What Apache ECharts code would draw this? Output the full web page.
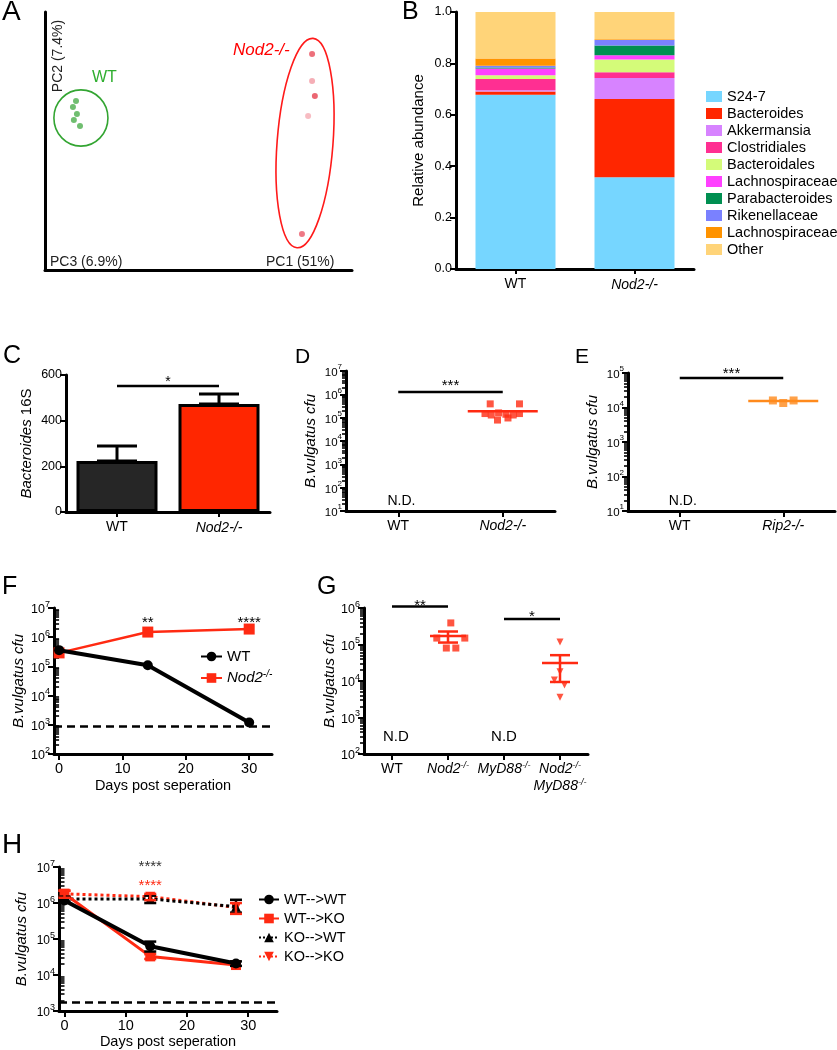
<!DOCTYPE html>
<html>
<head>
<meta charset="utf-8">
<script src="https://cdn.jsdelivr.net/npm/echarts@6.0.0/dist/echarts.min.js"></script>
<style>html,body{margin:0;padding:0;background:#fff;}#chart{width:837px;height:1050px;}</style>
</head>
<body>
<div id="chart"></div>
<script>
// ================= DATA =================
// Panel A: PCoA scores (arbitrary PC units 0-100)
const pcaWT = [[10.1,65.5],[9.1,63.2],[10.4,60.5],[9.4,58.1],[11.4,55.8]];
const pcaNod2 = [[87.0,83.7],[87.0,73.3],[87.9,67.4],[85.7,59.7],[83.7,14.0]];
const pcaEllipses = [[11.7,58.9,8.8,10.9,0],[84.7,49.2,9.1,40.7,-4.4]]; // cx, cy, rx, ry, tilt(deg)

// Panel B: relative abundance
const bCats = ['WT','Nod2-/-'];
const taxa = ['S24-7','Bacteroides','Akkermansia','Clostridiales','Bacteroidales','Lachnospiraceae','Parabacteroides','Rikenellaceae','Lachnospiraceae ','Other'];
const taxaWT   = [0.678,0.013,0.005,0.043,0.015,0.026,0.004,0.007,0.028,0.181];
const taxaNod2 = [0.357,0.304,0.082,0.023,0.049,0.017,0.038,0.021,0.003,0.106];
const bTicks = [0,0.2,0.4,0.6,0.8,1.0];

// Panel C: Bacteroides 16S
const cCats = ['WT','Nod2-/-'];
const cMean = [223,473];
const cErrTop = [289,517];

// Panel D: B.vulgatus cfu WT vs Nod2-/-
const dCats = ['WT','Nod2-/-'];
const dNod2X = [1.88,2.16,1.83,1.89,1.96,2.03,2.10,2.16,1.95,2.05];
const dNod2Y = [3.9e5,3.9e5,1.5e5,1.3e5,1.6e5,1.4e5,1.3e5,1.5e5,7.9e4,9.7e4];
const dNod2Mean = 1.9e5;

// Panel E: WT vs Rip2-/-
const eCats = ['WT','Rip2-/-'];
const eRip2X = [1.9,2.0,2.1];
const eRip2Y = [1.6e4,1.35e4,1.6e4];
const eRip2Mean = 1.55e4;

// Panel F: time course
const fDays = [0,14,30];
const fWT = [3.6e5,1.1e5,1.2e3];
const fNod2 = [2.9e5,1.5e6,1.9e6];
const fLimit = 900;
const fXTicks = [0,10,20,30];

// Panel G
const gCats = ['WT','Nod2-/-','MyD88-/-','Nod2-/-\nMyD88-/-'];
const gNod2X = [2.05,1.80,2.30,1.97,2.14];
const gNod2Y = [3.9e5,1.5e5,1.5e5,8.0e4,8.0e4];
const gNod2Stat = [1.7e5,1.13e5,2.27e5]; // mean, low, high
const gDKOX = [4.0,4.0,3.9,4.08,4.0];
const gDKOY = [1.17e5,1.8e4,1.07e4,7.8e3,3.6e3];
const gDKOStat = [3.1e4,9.4e3,5.1e4];

// Panel H: transfer time course
const hDays = [0,14,28];
const hWTWT = [1.17e6,6.3e4,2.1e4];
const hWTKO = [1.8e6,3.3e4,1.9e4];
const hKOWT = [1.3e6,1.3e6,7.9e5];
const hKOKO = [1.8e6,1.5e6,7.5e5];
const hErrWTWT = [null,[4.5e4,8.5e4],[1.8e4,2.4e4]];
const hErrWTKO = [[1.5e6,2.2e6],[2.8e4,3.8e4],null];
const hErrKOWT = [[1.1e6,1.5e6],[1.0e6,1.6e6],[5.4e5,1.23e6]];
const hErrKOKO = [[1.4e6,2.2e6],[1.2e6,1.8e6],[5.0e5,1.0e6]];
const hLimit = 1.8e3;
const hXTicks = [0,10,20,30];

// ================= STYLE =================
const FONT = '"Liberation Sans", Arial, Helvetica, sans-serif';
const RED = '#ff2a12';
const ORANGE = '#ff8a1c';
const GREEN = '#4cae4c';
const taxaColors = ['#76d6ff','#ff2600','#d783ff','#ff2f92','#d4fb79','#ff40ff','#008f51','#7a81ff','#ff9300','#ffd479'];
const pcaNod2Shades = ['#e94c5a','#f29aa4','#e6404f','#f5abb3','#ea5866'];

const grids=[], xAxes=[], yAxes=[], series=[], legends=[], graphics=[];
const addGrid = g => (grids.push(g), grids.length-1);
const addX = a => (xAxes.push(a), xAxes.length-1);
const addY = a => (yAxes.push(a), yAxes.length-1);

const axLine = {show:true, onZero:false, lineStyle:{color:'#000', width:3}};
const axTick = {show:true, length:6, lineStyle:{color:'#000', width:2}};

function rich(fs){
  return {
    i:{fontStyle:'italic', fontSize:fs, fontFamily:FONT, color:'#000', lineHeight:fs+3},
    s:{fontStyle:'italic', fontSize:Math.round(fs*0.65), fontFamily:FONT, color:'#000', lineHeight:Math.round(fs*0.65), verticalAlign:'top'},
    b:{fontSize:fs, fontFamily:FONT, color:'#000', lineHeight:fs+4, verticalAlign:'bottom'},
    e:{fontSize:Math.round(fs*0.72), fontFamily:FONT, color:'#000', lineHeight:Math.round(fs*0.72), verticalAlign:'top'}
  };
}
const italic = s => s === 'WT' ? s : '{i|' + s + '}';
const supKO = s => s === 'WT' ? s : s.split('\n').map(p => p.replace(/^(.*)-\/-$/, '{i|$1}{s|-/-}')).join('\n');
const supFmt = v => '{b|10}{e|' + Math.round(Math.log10(v)) + '}';
function minorVals(min, max){
  const out = [];
  for (let d = min; d < max - 1e-9 * max; d *= 10) for (let k = 2; k <= 9; k++) out.push(d*k);
  return out;
}

function logY(gi, min, max, fs, nameGap){
  const idx = addY({gridIndex:gi, type:'log', logBase:10, min, max,
    axisLine:axLine, axisTick:axTick,
    splitLine:{show:false}, minorSplitLine:{show:false},
    axisLabel:{formatter:supFmt, margin:4, color:'#000', rich:rich(fs)},
    name:'B.vulgatus cfu', nameLocation:'middle', nameRotate:90, nameGap,
    nameTextStyle:{fontSize:15, fontStyle:'italic', color:'#000', fontFamily:FONT}});
  // companion axis carrying the logarithmic minor ticks
  addY({gridIndex:gi, type:'log', logBase:10, min, max, position:'left',
    axisLine:{show:false}, axisLabel:{show:false}, splitLine:{show:false},
    axisTick:{show:true, customValues:minorVals(min, max), length:4, lineStyle:{color:'#000', width:1.6}}});
  return idx;
}
function catX(gi, cats, n, fs, fmt){
  const vals = cats.map((c,i)=>i+1);
  return addX({gridIndex:gi, type:'value', min:0.5, max:n+0.5,
    axisLine:axLine, axisTick:Object.assign({customValues:vals}, axTick),
    splitLine:{show:false},
    axisLabel:{customValues:vals, formatter:v=>fmt(cats[Math.round(v)-1]), fontSize:fs, lineHeight:fs+3, color:'#000', fontFamily:FONT, margin:7, rich:rich(fs), hideOverlap:false}});
}
function meanErr(xi, yi, items, color, halfMean, halfCap, lw){
  return {type:'custom', xAxisIndex:xi, yAxisIndex:yi, silent:true, z:6, clip:false,
    data: items,
    renderItem(p, api){
      const it = items[p.dataIndex];
      const c = api.coord([it[0], it[1]]);
      const ch = [];
      if (halfMean > 0) ch.push({type:'line', shape:{x1:c[0]-halfMean, y1:c[1], x2:c[0]+halfMean, y2:c[1]}, style:{stroke:color, lineWidth:lw}});
      if (it[2] != null && it[3] != null){
        const lo = api.coord([it[0], it[2]]), hi = api.coord([it[0], it[3]]);
        ch.push({type:'line', shape:{x1:c[0], y1:lo[1], x2:c[0], y2:hi[1]}, style:{stroke:color, lineWidth:lw}});
        ch.push({type:'line', shape:{x1:c[0]-halfCap, y1:lo[1], x2:c[0]+halfCap, y2:lo[1]}, style:{stroke:color, lineWidth:lw}});
        ch.push({type:'line', shape:{x1:c[0]-halfCap, y1:hi[1], x2:c[0]+halfCap, y2:hi[1]}, style:{stroke:color, lineWidth:lw}});
      }
      return {type:'group', children:ch};
    }};
}
function annot(xi, yi, items){
  return {type:'custom', xAxisIndex:xi, yAxisIndex:yi, silent:true, z:10, clip:false,
    data: items.map(it => [it.x1, it.y]),
    renderItem(p, api){
      const it = items[p.dataIndex];
      const a = api.coord([it.x1, it.y]);
      const ch = [];
      let tx = a[0];
      if (it.x2 != null){
        const b = api.coord([it.x2, it.y]);
        ch.push({type:'line', shape:{x1:a[0], y1:a[1], x2:b[0], y2:a[1]}, style:{stroke:'#000', lineWidth:2.5}});
        tx = (a[0]+b[0])/2;
      }
      const fs = it.fs || 15;
      ch.push({type:'text', x:tx, y:a[1] + (it.dy||0), style:{text:it.text, fill:it.color||'#000', fontSize:fs, fontFamily:FONT, align:'center', verticalAlign:'middle'}});
      return {type:'group', children:ch};
    }};
}
const STAR_OFF = 4; // shift so the asterisk glyph centre sits at the given position

// ================= PANEL A =================
const gA = addGrid({left:45, top:12, width:307, height:258});
const xA = addX({gridIndex:gA, type:'value', min:0, max:100, axisLine:axLine, axisTick:{show:false}, axisLabel:{show:false}, splitLine:{show:false}});
const yA = addY({gridIndex:gA, type:'value', min:0, max:100, axisLine:axLine, axisTick:{show:false}, axisLabel:{show:false}, splitLine:{show:false}});
series.push({type:'custom', name:'A_ellipses', xAxisIndex:xA, yAxisIndex:yA, silent:true, clip:false, data:pcaEllipses,
  renderItem(p, api){
    const e = pcaEllipses[p.dataIndex];
    const c = api.coord([e[0], e[1]]);
    const s = api.size([e[2], e[3]]);
    return {type:'ellipse', x:c[0], y:c[1], rotation:e[4]*Math.PI/180, shape:{cx:0, cy:0, rx:s[0], ry:s[1]},
      style:{fill:'none', stroke: p.dataIndex===0 ? '#33a532' : '#ff1a1a', lineWidth:1.6}};
  }});
series.push({type:'scatter', name:'A_WT', xAxisIndex:xA, yAxisIndex:yA, data:pcaWT, symbolSize:6, itemStyle:{color:GREEN}});
series.push({type:'scatter', name:'A_Nod2', xAxisIndex:xA, yAxisIndex:yA, symbolSize:6,
  data:pcaNod2.map((d,i)=>({value:d, itemStyle:{color:pcaNod2Shades[i]}}))});
graphics.push(
  {type:'text', x:58, y:56, rotation:Math.PI/2, style:{text:'PC2 (7.4%)', fontSize:14, fontFamily:FONT, fill:'#222', align:'center', verticalAlign:'middle'}},
  {type:'text', x:92, y:78, style:{text:'WT', fontSize:16, fontFamily:FONT, fill:'#2fae2f', align:'left', verticalAlign:'middle'}},
  {type:'text', x:233, y:50, style:{text:'Nod2-/-', fontSize:17, fontStyle:'italic', fontFamily:FONT, fill:'#ff0000', align:'left', verticalAlign:'middle'}},
  {type:'text', x:50, y:262, style:{text:'PC3 (6.9%)', fontSize:14, fontFamily:FONT, fill:'#222', align:'left', verticalAlign:'middle'}},
  {type:'text', x:266, y:262, style:{text:'PC1 (51%)', fontSize:14, fontFamily:FONT, fill:'#222', align:'left', verticalAlign:'middle'}}
);

// ================= PANEL B =================
const gB = addGrid({left:456, top:12, width:238, height:257});
const xB = addX({gridIndex:gB, type:'category', data:bCats, axisLine:axLine,
  axisTick:Object.assign({alignWithLabel:true}, axTick, {length:5}),
  axisLabel:{formatter:italic, fontSize:14, color:'#000', fontFamily:FONT, margin:8, rich:rich(14)}});
const yB = addY({gridIndex:gB, type:'value', min:0, max:1, interval:0.2, axisLine:axLine, axisTick:axTick, splitLine:{show:false},
  axisLabel:{customValues:bTicks, formatter:v=>v.toFixed(1), fontSize:12.5, color:'#000', fontFamily:FONT, margin:4},
  name:'Relative abundance', nameLocation:'middle', nameRotate:90, nameGap:30,
  nameTextStyle:{fontSize:15, color:'#000', fontFamily:FONT}});
taxa.forEach((t,i)=>{
  series.push({type:'bar', name:t, stack:'b', xAxisIndex:xB, yAxisIndex:yB, barWidth:80,
    data:[taxaWT[i], taxaNod2[i]], itemStyle:{color:taxaColors[i]}});
});
legends.push({left:706, top:89, orient:'vertical', padding:0, itemWidth:16, itemHeight:11, itemGap:2, icon:'rect',
  selectedMode:false, data:taxa, textStyle:{fontSize:14.5, lineHeight:15, color:'#000', fontFamily:FONT}});

// ================= PANEL C =================
const gC = addGrid({left:66, top:375, width:204, height:137});
const xC = addX({gridIndex:gC, type:'category', data:cCats, axisLine:axLine,
  axisTick:Object.assign({alignWithLabel:true}, axTick, {length:5}),
  axisLabel:{formatter:italic, fontSize:14, color:'#000', fontFamily:FONT, margin:8, rich:rich(14)}});
const yC = addY({gridIndex:gC, type:'value', min:0, max:600, interval:200, axisLine:axLine, axisTick:axTick, splitLine:{show:false},
  axisLabel:{fontSize:12.5, color:'#000', fontFamily:FONT, margin:4},
  name:'{i|Bacteroides} 16S', nameLocation:'middle', nameRotate:90, nameGap:32,
  nameTextStyle:{fontSize:15, color:'#000', fontFamily:FONT, rich:{i:{fontStyle:'italic', fontSize:15, fontFamily:FONT, color:'#000'}}}});
series.push({type:'bar', name:'C_bars', xAxisIndex:xC, yAxisIndex:yC, barWidth:81, z:3,
  data:cMean.map((v,i)=>({value:v, itemStyle:{color: i===0 ? '#262626' : '#ff2600', borderColor:'#000', borderWidth:3}}))});
series.push(meanErr(xC, yC, cMean.map((v,i)=>[i, cErrTop[i], v, cErrTop[i]]), '#000', 0, 20, 3));
series.push(annot(xC, yC, [{x1:0, x2:1, y:552, text:'*', dy:-8+STAR_OFF, fs:14}]));

// ================= PANEL D =================
const gD = addGrid({left:346, top:371, width:209, height:140});
const xD = catX(gD, dCats, 2, 14, italic);
const yD = logY(gD, 10, 1e7, 11.5, 28);
series.push({type:'scatter', name:'D_Nod2', xAxisIndex:xD, yAxisIndex:yD, symbol:'rect', symbolSize:7,
  data:dNod2X.map((x,i)=>[x, dNod2Y[i]]), itemStyle:{color:RED}});
series.push(meanErr(xD, yD, [[2, dNod2Mean, null, null]], RED, 35, 0, 2.5));
series.push(annot(xD, yD, [{x1:1, x2:2, y:1.26e6, text:'***', dy:-10+STAR_OFF},
  {x1:1.03, y:27, text:'N.D.', fs:14}]));

// ================= PANEL E =================
const gE = addGrid({left:628, top:373, width:207, height:138});
const xE = catX(gE, eCats, 2, 14, italic);
const yE = logY(gE, 10, 1e5, 11.5, 28);
series.push({type:'scatter', name:'E_Rip2', xAxisIndex:xE, yAxisIndex:yE, symbol:'rect', symbolSize:8,
  data:eRip2X.map((x,i)=>[x, eRip2Y[i]]), itemStyle:{color:ORANGE}});
series.push(meanErr(xE, yE, [[2, eRip2Mean, null, null]], ORANGE, 35, 0, 2.5));
series.push(annot(xE, yE, [{x1:1, x2:2, y:7.2e4, text:'***', dy:-8+STAR_OFF},
  {x1:1.03, y:19.5, text:'N.D.', fs:14}]));

// ================= PANEL F =================
const gF = addGrid({left:54, top:608, width:218, height:146});
const xF = addX({gridIndex:gF, type:'value', min:-0.8, max:33.6, axisLine:axLine,
  axisTick:Object.assign({customValues:fXTicks}, axTick), splitLine:{show:false},
  axisLabel:{customValues:fXTicks, fontSize:14.5, color:'#000', fontFamily:FONT, margin:7},
  name:'Days post seperation', nameLocation:'middle', nameGap:24, nameTextStyle:{fontSize:14.5, color:'#000', fontFamily:FONT}});
const yF = logY(gF, 100, 1e7, 12.5, 28);
series.push({type:'line', name:'WT', xAxisIndex:xF, yAxisIndex:yF, data:fDays.map((d,i)=>[d,fWT[i]]),
  symbol:'circle', symbolSize:10, lineStyle:{color:'#000', width:4}, itemStyle:{color:'#000'}, z:4,
  markLine:{silent:true, symbol:'none', label:{show:false}, lineStyle:{type:[8,5], color:'#000', width:2.5}, data:[{yAxis:fLimit}]}});
series.push({type:'line', name:'Nod2-/-', xAxisIndex:xF, yAxisIndex:yF, data:fDays.map((d,i)=>[d,fNod2[i]]),
  symbol:'rect', symbolSize:11, lineStyle:{color:RED, width:2.5}, itemStyle:{color:RED}, z:3});
series.push(annot(xF, yF, [{x1:14, y:4.2e6, text:'**', dy:STAR_OFF}, {x1:30, y:4.2e6, text:'****', dy:STAR_OFF}]));
legends.push({left:200, top:649, orient:'vertical', padding:0, itemWidth:21, itemHeight:12, itemGap:5, selectedMode:false,
  data:['WT','Nod2-/-'], formatter:n => n==='WT' ? n : '{i|Nod2}{s|-/-}',
  textStyle:{fontSize:15, lineHeight:14, color:'#000', fontFamily:FONT, rich:rich(15)}});

// ================= PANEL G =================
const gG = addGrid({left:364, top:608, width:224, height:146});
const xG = catX(gG, gCats, 4, 14, supKO);
const yG = logY(gG, 100, 1e6, 12.5, 19);
series.push({type:'scatter', name:'G_Nod2', xAxisIndex:xG, yAxisIndex:yG, symbol:'rect', symbolSize:7,
  data:gNod2X.map((x,i)=>[x, gNod2Y[i]]), itemStyle:{color:RED}});
series.push({type:'scatter', name:'G_DKO', xAxisIndex:xG, yAxisIndex:yG, symbol:'triangle', symbolRotate:180, symbolSize:7,
  data:gDKOX.map((x,i)=>[x, gDKOY[i]]), itemStyle:{color:RED}});
series.push(meanErr(xG, yG, [[2].concat(gNod2Stat), [4].concat(gDKOStat)], RED, 18, 10, 2.5));
series.push(annot(xG, yG, [{x1:1, x2:2, y:1.1e6, text:'**', dy:-5+STAR_OFF},
  {x1:3, x2:4, y:5.0e5, text:'*', dy:-6+STAR_OFF},
  {x1:1.07, y:290, text:'N.D', fs:15}, {x1:3.0, y:290, text:'N.D', fs:15}]));

// ================= PANEL H =================
const gH = addGrid({left:59, top:867, width:218, height:145});
const xH = addX({gridIndex:gH, type:'value', min:-0.9, max:34.7, axisLine:axLine,
  axisTick:Object.assign({customValues:hXTicks}, axTick), splitLine:{show:false},
  axisLabel:{customValues:hXTicks, fontSize:14.5, color:'#000', fontFamily:FONT, margin:7},
  name:'Days post seperation', nameLocation:'middle', nameGap:22, nameTextStyle:{fontSize:14.5, color:'#000', fontFamily:FONT}});
const yH = logY(gH, 1e3, 1e7, 12, 30);
const hSeries = [
  {name:'WT-->WT', data:hWTWT, err:hErrWTWT, color:'#000', sym:'circle', rot:0, type:'solid', w:4, z:5},
  {name:'WT-->KO', data:hWTKO, err:hErrWTKO, color:RED, sym:'rect', rot:0, type:'solid', w:3, z:4},
  {name:'KO-->WT', data:hKOWT, err:hErrKOWT, color:'#000', sym:'triangle', rot:0, type:'dotted', w:3, z:3},
  {name:'KO-->KO', data:hKOKO, err:hErrKOKO, color:RED, sym:'triangle', rot:180, type:'dotted', w:3, z:2}
];
hSeries.forEach(s=>{
  series.push({type:'line', name:s.name, xAxisIndex:xH, yAxisIndex:yH, data:hDays.map((d,i)=>[d, s.data[i]]),
    symbol:s.sym, symbolRotate:s.rot, symbolSize:10, lineStyle:{color:s.color, width:s.w, type:s.type}, itemStyle:{color:s.color}, z:s.z,
    markLine: s.name==='WT-->WT' ? {silent:true, symbol:'none', label:{show:false}, lineStyle:{type:[8,5], color:'#000', width:2.5}, data:[{yAxis:hLimit}]} : undefined});
  series.push(meanErr(xH, yH, hDays.map((d,i)=> s.err[i] ? [d, s.data[i], s.err[i][0], s.err[i][1]] : [d, s.data[i], null, null]), s.color, 0, 6, 2.5));
});
series.push(annot(xH, yH, [{x1:14, y:1.3e7, text:'****', dy:STAR_OFF, color:'#333'}, {x1:14, y:3.9e6, text:'****', dy:STAR_OFF, color:RED}]));
legends.push({left:258, top:892, orient:'vertical', padding:0, itemWidth:20, itemHeight:12, itemGap:4, selectedMode:false,
  data:hSeries.map(s=>s.name), textStyle:{fontSize:14.5, lineHeight:15, color:'#000', fontFamily:FONT}});

// ================= PANEL LETTERS =================
[['A',2,12,28],['B',402,12,25],['C',3,356,25],['D',295,357,21],['E',575,357,21],['F',2,587,25],['G',317,587,25],['H',2,845,28]]
  .forEach(l=>graphics.push({type:'text', x:l[1], y:l[2], style:{text:l[0], fontSize:l[3], fontFamily:FONT, fill:'#000', align:'left', verticalAlign:'middle'}}));

const chart = echarts.init(document.getElementById('chart'), null, {renderer:'canvas'});
chart.setOption({
  backgroundColor:'#fff', animation:false, textStyle:{fontFamily:FONT},
  grid:grids, xAxis:xAxes, yAxis:yAxes, series, legend:legends, graphic:graphics
});
</script>
</body>
</html>
